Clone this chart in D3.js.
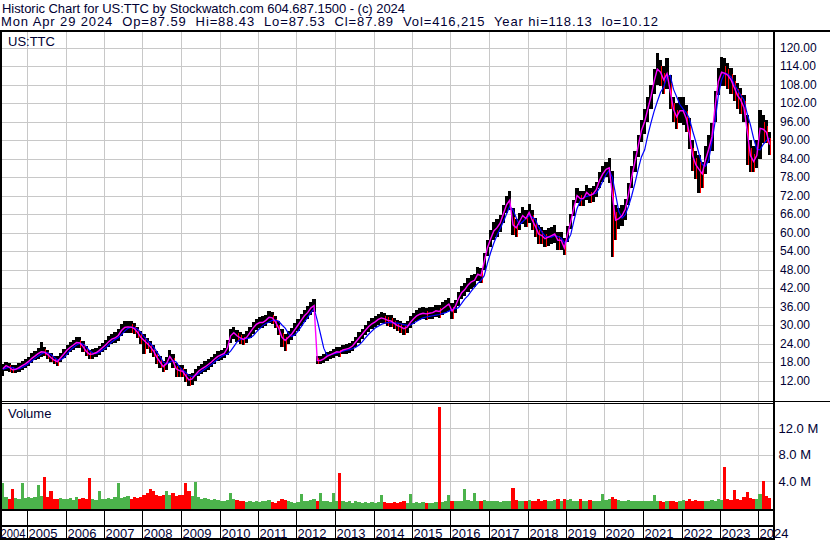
<!DOCTYPE html>
<html><head><meta charset="utf-8">
<script src="https://cdn.jsdelivr.net/npm/d3@7"></script>
<style>
html,body{margin:0;padding:0;background:#fff;}
svg{display:block;}
text{font-family:"Liberation Sans",Arial,sans-serif;}
</style></head><body>
<svg id="c" width="830" height="543"></svg>
<script>
// ---------------- DATA ----------------
const headerLine1 = "Historic Chart for US:TTC by Stockwatch.com 604.687.1500 - (c) 2024";
const headerLine2 = "Mon Apr 29 2024  Op=87.59  Hi=88.43  Lo=87.53  Cl=87.89  Vol=416,215  Year hi=118.13  lo=10.12";
const symbolLabel = "US:TTC";
const volumeLabel = "Volume";
const yearLabels = ["2004","2005","2006","2007","2008","2009","2010","2011","2012","2013","2014","2015","2016","2017","2018","2019","2020","2021","2022","2023","2024"];
const priceTicks = [12,18,24,30,36,42,48,54,60,66,72,78,84,90,96,102,108,114,120];
const volTicks = [4e6, 8e6, 12e6];
const volTickLabels = ["4.0 M","8.0 M","12.0 M"];
const firstMonth = "2004-05";   // monthly series, May 2004 .. Apr 2024

// monthly closes / short average (magenta)
const closes = [
 15.8,16.8,16.3,15.5,15.6,16.2,16.8,17.4,
 18.2,19.2,19.9,20.7,21.3,21.2,20.4,19.4,18.6,18.1,19.4,20.6,
 21.9,22.8,23.5,24.3,24.2,23.0,21.5,20.5,20.6,21.0,21.7,22.6,
 23.5,24.6,25.4,25.8,26.6,28.2,29.2,29.4,29.3,28.8,27.6,26.0,
 25.0,24.0,22.9,21.5,19.5,18.0,16.5,17.5,19.8,18.3,15.8,15.2,
 15.0,13.5,12.2,12.5,13.8,15.0,15.8,16.4,17.2,18.0,19.0,19.8,
 20.3,20.8,22.5,26.5,27.5,26.5,25.8,25.3,26.0,27.5,29.0,30.2,
 30.8,30.8,31.5,32.5,32.3,31.0,29.0,26.0,25.0,26.0,27.0,28.5,
 30.0,31.5,33.0,34.0,35.5,36.3,18.5,18.5,19.0,19.8,20.3,20.8,
 21.3,21.2,21.9,22.2,22.5,23.2,24.5,25.8,27.0,28.3,29.5,30.4,
 31.0,31.8,32.3,32.0,31.5,31.3,30.5,29.8,29.4,28.8,29.3,30.8,
 32.0,33.0,33.5,33.8,33.6,33.8,34.0,34.6,34.4,35.2,36.0,36.8,
 34.5,36.0,38.5,40.5,41.5,43.0,44.0,44.5,46.5,46.0,50.5,55.0,
 58.0,60.5,61.5,63.0,66.0,69.0,70.5,62.5,61.5,63.5,65.5,64.5,
 66.5,64.0,62.0,59.5,59.0,58.0,58.5,59.0,59.5,57.5,57.5,55.0,
 59.5,63.5,68.0,72.0,71.0,71.0,73.0,72.0,72.5,74.0,77.0,79.0,
 80.5,81.0,72.0,64.0,64.5,65.5,67.5,72.5,78.0,83.0,88.0,93.0,
 96.0,100.0,104.0,109.0,113.0,112.0,109.5,111.5,106.0,100.0,97.5,99.5,
 99.5,97.0,92.0,85.0,82.0,80.5,79.0,83.5,87.0,91.0,101.0,109.0,
 112.0,111.6,111.0,109.5,107.0,104.5,103.0,100.5,93.0,85.0,83.0,85.0,
 93.8,93.5,92.5,88.5
];
// monthly highs
const highs = [
 17.4,18.0,17.6,17.0,17.0,17.6,18.2,19.0,
 19.7,20.8,21.5,22.5,24.6,23.0,22.0,21.0,20.1,19.9,21.0,22.1,
 23.5,24.4,25.1,26.1,26.1,24.7,23.2,22.0,22.2,22.6,23.3,24.1,
 25.1,26.3,27.1,27.7,28.6,30.2,31.3,31.4,31.3,30.7,29.5,28.0,
 27.0,25.9,24.8,23.4,21.5,19.9,18.4,19.6,22.0,20.5,17.8,17.1,
 17.1,15.6,14.1,14.5,15.6,16.8,17.5,18.2,19.0,19.7,20.7,21.5,
 21.9,22.6,25.1,28.6,29.5,28.4,27.6,27.1,27.9,29.4,30.9,32.0,
 32.6,32.8,33.4,34.4,34.3,33.0,31.2,28.6,27.2,28.1,28.9,30.5,
 31.9,33.5,35.0,36.1,37.6,38.3,20.0,19.9,20.5,21.3,21.7,22.3,
 22.8,22.8,23.5,23.8,24.2,24.9,26.2,27.6,28.8,30.1,31.3,32.2,
 32.9,33.7,34.2,33.9,33.4,33.2,32.4,31.7,31.3,30.7,31.2,32.8,
 33.9,34.9,35.4,35.7,35.5,35.7,36.0,36.5,36.4,37.3,38.1,38.9,
 37.2,38.2,40.7,42.7,43.7,45.2,46.2,46.7,48.7,48.5,53.2,57.7,
 60.8,63.3,64.3,65.8,68.8,71.8,73.4,67.8,64.3,66.3,68.3,67.3,
 69.3,67.3,64.8,62.3,61.8,60.8,61.3,61.8,62.3,60.3,60.3,58.3,
 62.0,66.0,70.5,74.5,73.5,73.5,75.5,74.5,75.0,76.5,79.5,81.5,
 83.0,84.2,80.0,69.0,68.0,69.0,71.0,76.0,81.5,86.5,91.5,96.5,
 100.0,104.0,108.0,113.0,118.1,116.0,114.0,116.5,111.0,104.0,102.0,104.0,
 104.0,101.5,97.0,90.0,86.5,85.0,83.0,88.0,91.5,95.5,106.0,113.5,
 117.0,116.5,115.0,113.5,111.0,108.5,107.0,104.5,98.0,90.0,88.0,90.0,
 99.7,98.0,96.5,92.5
];
// monthly lows
const lows = [
 13.5,15.2,14.9,14.3,14.3,14.8,15.4,16.0,
 16.8,17.8,18.5,19.1,19.7,19.8,18.9,17.9,17.2,16.8,17.9,19.2,
 20.4,21.3,22.0,22.7,22.5,21.3,19.8,18.9,19.1,19.5,20.2,21.1,
 22.0,23.0,23.8,24.1,24.9,26.3,27.5,27.5,27.4,27.0,25.7,24.0,
 20.5,22.1,20.9,19.6,17.5,16.1,14.6,15.4,17.7,16.1,13.0,13.1,
 13.0,11.4,10.1,10.6,12.0,13.3,14.1,14.7,15.5,16.3,17.3,18.2,
 18.7,19.2,20.4,24.2,25.4,24.4,24.0,23.4,24.2,25.7,27.2,28.4,
 29.0,29.0,29.6,30.6,30.2,28.9,26.6,22.9,21.6,23.9,25.1,26.5,
 28.2,29.6,31.1,32.0,33.4,34.2,17.4,17.2,17.6,18.4,18.9,19.4,
 19.8,19.7,20.5,20.7,21.0,21.6,22.9,24.1,25.3,26.6,27.8,28.7,
 29.2,30.0,30.5,30.2,29.7,29.5,28.6,27.9,27.4,26.8,27.4,28.9,
 30.2,31.2,31.7,31.9,31.7,31.9,32.1,32.6,32.2,33.2,34.0,34.7,
 32.0,33.8,36.3,38.3,39.3,40.8,41.8,42.3,44.3,43.5,47.8,52.3,
 55.2,57.7,58.7,60.2,63.2,66.2,67.2,59.2,58.7,60.7,62.7,61.7,
 63.2,60.7,58.7,56.2,56.2,55.2,55.7,56.2,56.7,54.2,54.2,52.7,
 57.0,61.0,65.5,69.5,68.5,68.5,70.5,69.5,70.0,71.5,74.5,76.5,
 78.0,76.0,52.0,57.5,61.0,62.0,64.0,69.0,74.5,79.5,84.5,89.5,
 92.0,96.0,100.0,105.0,108.0,107.5,105.0,106.5,100.0,96.0,93.5,95.5,
 95.0,92.5,87.0,80.0,77.5,72.8,74.5,79.0,82.5,86.5,96.0,104.5,
 107.5,107.5,106.5,105.0,102.5,100.0,98.5,96.0,82.0,79.7,79.7,81.0,
 84.0,89.0,89.0,85.0
];
// longer moving average (blue)
const longAvg = [
 15.6,16.0,16.3,16.2,15.8,15.8,16.2,16.8,
 17.5,18.3,19.1,19.9,20.6,21.1,21.0,20.4,19.5,18.7,18.7,19.4,
 20.6,21.8,22.7,23.5,24.0,23.8,22.9,21.7,20.9,20.7,21.1,21.8,
 22.6,23.6,24.5,25.3,25.9,26.9,28.0,28.9,29.3,29.2,28.6,27.5,
 26.2,25.0,24.0,22.8,21.3,19.7,18.0,17.3,17.9,18.5,18.0,16.4,
 15.3,14.6,13.6,13.3,13.6,14.2,15.0,15.7,16.5,17.2,18.1,18.9,
 19.7,20.3,20.5,21.5,23.0,24.5,25.3,25.6,25.6,25.8,26.5,27.7,
 28.8,29.8,30.5,31.0,31.5,31.6,31.2,30.0,29.0,27.3,26.3,26.8,
 28.0,29.5,31.0,32.5,34.0,35.3,31.5,27.0,22.5,20.2,20.3,20.6,
 20.9,21.2,21.5,21.8,22.0,22.3,22.8,23.5,24.5,25.8,27.0,28.0,
 29.0,29.6,30.2,30.6,30.8,30.8,30.7,30.6,30.4,30.1,29.9,30.0,
 30.6,31.2,31.8,32.3,32.6,32.8,33.0,33.2,33.4,33.7,34.0,34.5,
 35.0,35.3,35.6,37.0,38.5,39.5,41.0,42.3,43.5,44.5,46.0,50.0,
 53.5,56.5,59.0,61.2,63.5,66.0,68.5,67.3,64.8,62.5,63.5,64.5,
 65.5,65.0,64.2,61.8,60.2,58.8,58.5,58.5,59.0,58.7,58.2,56.7,
 57.3,59.3,63.7,67.8,70.3,71.3,71.7,72.0,72.5,72.8,74.5,76.7,
 78.8,80.2,77.8,72.3,66.8,64.7,65.8,68.5,72.0,76.0,80.5,84.5,
 86.8,91.5,95.5,99.3,102.5,105.5,107.2,110.5,111.0,106.5,104.0,101.5,
 100.0,98.8,97.0,93.0,89.5,85.5,82.0,81.5,83.5,89.5,96.0,104.5,
 109.5,111.7,111.3,110.5,108.0,106.3,104.5,103.0,98.5,95.0,90.5,87.0,
 86.8,88.6,89.8,90.6
];
// volume (millions of shares)
const volumes = [
 3.7,1.6,1.4,2.9,1.5,1.3,3.7,1.5,
 1.6,1.5,1.7,3.5,1.8,4.6,1.7,2.5,1.4,1.3,1.5,1.4,
 1.3,1.5,1.2,1.6,1.4,1.5,1.3,4.5,1.4,1.2,2.5,1.3,
 1.4,1.5,1.3,1.6,3.7,1.5,1.7,1.8,1.4,1.6,1.5,1.7,
 2.0,2.2,2.8,2.6,1.9,1.8,2.0,2.5,1.9,2.2,1.8,2.0,
 2.0,3.7,2.6,1.8,3.9,1.6,1.4,1.5,1.3,1.2,1.3,1.2,
 1.1,1.0,1.2,2.2,1.3,1.2,1.0,1.1,0.9,1.0,0.9,1.0,
 0.9,1.0,1.0,1.2,0.9,0.8,1.1,1.3,1.2,1.0,0.9,0.8,
 0.9,2.1,1.0,1.1,1.2,1.3,1.0,2.2,1.0,1.1,0.9,2.2,
 1.0,5.3,1.0,0.9,1.0,0.8,1.0,0.9,0.8,0.9,0.8,0.9,
 0.8,0.9,1.9,0.9,0.8,0.8,0.9,0.8,0.9,1.0,0.8,2.1,
 0.8,0.9,0.8,0.9,0.8,0.7,0.8,0.9,15.2,0.9,1.0,1.9,
 1.0,1.1,1.0,1.1,2.9,1.2,1.0,2.3,1.1,1.0,1.2,1.1,
 1.0,1.1,1.0,0.9,1.0,1.1,1.0,3.0,1.2,1.1,1.0,1.0,
 1.2,1.0,1.1,1.3,1.0,1.2,1.1,1.0,1.2,1.3,1.1,1.4,
 1.2,1.3,1.1,1.0,1.4,1.0,1.1,1.2,1.0,1.1,1.0,2.1,
 1.2,1.4,1.6,1.3,1.2,1.1,1.0,1.2,1.1,1.0,1.1,1.0,
 1.0,1.1,1.0,2.0,1.1,1.0,0.9,1.0,1.1,1.0,0.9,1.1,
 1.2,1.1,1.3,1.0,1.2,1.1,1.0,1.1,1.0,1.2,1.1,1.3,
 1.2,6.1,1.3,1.2,2.7,1.4,1.2,1.6,2.4,1.5,1.4,1.3,
 2.1,4.0,1.8,1.5
];

// ---------------- CHART ----------------
const W = 830, H = 543;
const TXT = "#000033", GRID = "#c8c8c8";
const FONT = '"Liberation Sans",Arial,sans-serif';
const svg = d3.select("#c");
svg.append("rect").attr("width", W).attr("height", H).attr("fill", "#fff");

const parseMonth = d3.timeParse("%Y-%m");
const m0 = parseMonth(firstMonth);
const months = closes.map((_, i) => d3.timeMonth.offset(m0, i));

const x = d3.scaleTime().domain([new Date(2004, 3, 29), new Date(2024, 3, 29)]).range([1, 771]);
const yP = d3.scaleLinear().domain([12, 120]).range([380.5, 47.5]);
const yV = d3.scaleLinear().domain([0, 12e6]).range([508, 428]);

const PX0 = 2, PX1 = 773;
const geo = months.map(m => {
  const n = d3.timeMonth.offset(m, 1);
  const a = Math.max(PX0, Math.round(x(m)));
  const b = Math.min(PX1, Math.round(x(n)));
  return { a, b, mid: (x(m) + Math.min(x(n), PX1)) / 2 };
});
const down = closes.map((c, i) => i > 0 && c < closes[i - 1]);
const yearStarts = yearLabels.slice(1).map(y => Math.round(x(new Date(+y, 0, 1))) + 0.5);

// clip paths
const defs = svg.append("defs");
defs.append("clipPath").attr("id", "cp").append("rect").attr("x", 2).attr("y", 32).attr("width", 771).attr("height", 369);
defs.append("clipPath").attr("id", "cv").append("rect").attr("x", 2).attr("y", 404).attr("width", 771).attr("height", 105);

// header
svg.append("text").attr("x", 2).attr("y", 12.5).attr("font-size", 13).attr("fill", TXT)
  .attr("textLength", 403).attr("lengthAdjust", "spacing")
  .style("white-space", "pre").text(headerLine1);
svg.append("text").attr("x", 1).attr("y", 26).attr("font-size", 13).attr("fill", TXT)
  .attr("textLength", 657).attr("lengthAdjust", "spacing")
  .style("white-space", "pre").text(headerLine2);

// grid: price panel
const gGrid = svg.append("g").attr("shape-rendering", "crispEdges").attr("stroke", GRID).attr("stroke-width", 1);
gGrid.selectAll(".hp").data(priceTicks).join("line")
  .attr("x1", PX0).attr("x2", PX1)
  .attr("y1", d => Math.round(yP(d)) + 0.5).attr("y2", d => Math.round(yP(d)) + 0.5);
gGrid.selectAll(".vp").data(yearStarts).join("line")
  .attr("x1", d => d).attr("x2", d => d).attr("y1", 32).attr("y2", 401);
// grid: volume panel
gGrid.selectAll(".hv").data(volTicks).join("line")
  .attr("x1", PX0).attr("x2", PX1)
  .attr("y1", d => Math.round(yV(d)) + 0.5).attr("y2", d => Math.round(yV(d)) + 0.5);
gGrid.selectAll(".vv").data(yearStarts).join("line")
  .attr("x1", d => d).attr("x2", d => d).attr("y1", 404).attr("y2", 509);

// price bars
const gP = svg.append("g").attr("clip-path", "url(#cp)").attr("shape-rendering", "crispEdges");
gP.selectAll(".bar").data(closes).join("rect")
  .attr("x", (d, i) => geo[i].a)
  .attr("width", (d, i) => Math.max(1, geo[i].b - geo[i].a))
  .attr("y", (d, i) => Math.round(yP(highs[i])))
  .attr("height", (d, i) => Math.max(1, Math.round(yP(lows[i])) - Math.round(yP(highs[i]))))
  .attr("fill", "#000");
gP.selectAll(".red").data(closes.map((c, i) => i).filter(i => down[i])).join("rect")
  .attr("x", i => geo[i].b - 1)
  .attr("width", 1)
  .attr("y", i => Math.round(yP((highs[i] + closes[i]) / 2)))
  .attr("height", i => Math.max(1, Math.round(yP(lows[i])) - Math.round(yP((highs[i] + closes[i]) / 2))))
  .attr("fill", "#ff0000");

// moving averages
const gL = svg.append("g").attr("clip-path", "url(#cp)");
const lineGen = d3.line().x((d, i) => geo[i].mid).y(d => yP(d));
gL.append("path").datum(longAvg).attr("d", lineGen).attr("fill", "none").attr("stroke", "#0000ff").attr("stroke-width", 1.2);
gL.append("path").datum(closes).attr("d", lineGen).attr("fill", "none").attr("stroke", "#ff00ff").attr("stroke-width", 1.4);

// volume bars
const gV = svg.append("g").attr("clip-path", "url(#cv)").attr("shape-rendering", "crispEdges");
gV.selectAll("rect").data(volumes).join("rect")
  .attr("x", (d, i) => geo[i].a)
  .attr("width", (d, i) => Math.max(1, geo[i].b - geo[i].a))
  .attr("y", d => Math.round(yV(d * 1e6)))
  .attr("height", d => 509 - Math.round(yV(d * 1e6)))
  .attr("fill", (d, i) => down[i] ? "#ff0000" : "#4cb34c");

// frame
const gF = svg.append("g").attr("shape-rendering", "crispEdges").attr("fill", "#000");
gF.append("rect").attr("x", 0).attr("y", 30).attr("width", W).attr("height", 2);
gF.append("rect").attr("x", 0).attr("y", 30).attr("width", 2).attr("height", 510);
gF.append("rect").attr("x", 773).attr("y", 30).attr("width", 2).attr("height", 510);
gF.append("rect").attr("x", 0).attr("y", 401).attr("width", W).attr("height", 1);
gF.append("rect").attr("x", 0).attr("y", 403).attr("width", 775).attr("height", 1);
gF.append("rect").attr("x", 0).attr("y", 509).attr("width", 775).attr("height", 2);
gF.append("rect").attr("x", 0).attr("y", 525).attr("width", 775).attr("height", 2);
gF.append("rect").attr("x", 0).attr("y", 538).attr("width", 775).attr("height", 2);
svg.append("g").attr("shape-rendering", "crispEdges").attr("stroke", "#000")
  .selectAll("line").data(yearStarts).join("line")
  .attr("x1", d => d).attr("x2", d => d).attr("y1", 511).attr("y2", 538);

// year labels
const gY = svg.append("g");
gY.selectAll("text").data(yearLabels).join("text")
  .attr("x", (d, i) => i === 0 ? 0.5 : yearStarts[i - 1] + 1)
  .attr("y", 537.5).attr("font-size", 13).attr("fill", TXT).text(d => d)
  .each(function (d, i) { if (i === 0) d3.select(this).attr("textLength", 25).attr("lengthAdjust", "spacingAndGlyphs"); });

// right axes
const axP = svg.append("g").attr("transform", "translate(775,0)")
  .call(d3.axisRight(yP).tickValues(priceTicks).tickFormat(d => d.toFixed(2)).tickSize(0).tickPadding(5));
axP.select(".domain").remove();
axP.attr("font-size", 12).attr("font-family", FONT);
axP.selectAll("text").attr("font-family", FONT).attr("font-size", 12).attr("fill", TXT);

const axV = svg.append("g").attr("transform", "translate(775,0)")
  .call(d3.axisRight(yV).tickValues(volTicks).tickFormat((d, i) => volTickLabels[i]).tickSize(0).tickPadding(3.5));
axV.select(".domain").remove();
axV.attr("font-size", 13).attr("font-family", FONT);
axV.selectAll("text").attr("font-family", FONT).attr("font-size", 13).attr("fill", TXT);

// panel labels
svg.append("text").attr("x", 8).attr("y", 46).attr("font-size", 13).attr("fill", TXT).text(symbolLabel);
svg.append("text").attr("x", 8).attr("y", 418).attr("font-size", 13).attr("fill", TXT).text(volumeLabel);
</script>
</body></html>
